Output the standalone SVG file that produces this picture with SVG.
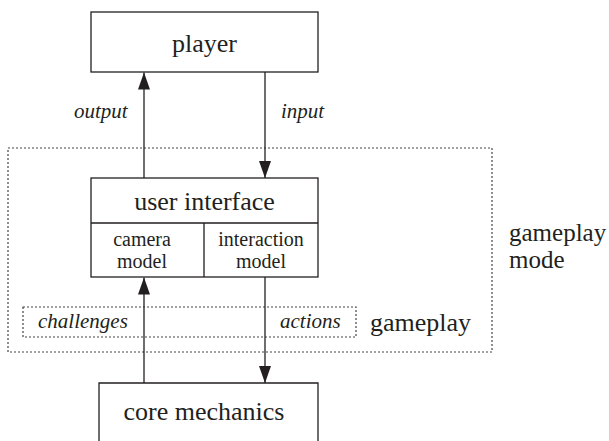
<svg xmlns="http://www.w3.org/2000/svg" width="609" height="441" viewBox="0 0 609 441">
  <defs>
    <marker id="arrow" markerWidth="17" markerHeight="12" refX="17" refY="6" orient="auto" markerUnits="userSpaceOnUse">
      <path d="M0,0 L17,6 L0,12 Z" fill="#231f20"/>
    </marker>
  </defs>
  <rect width="609" height="441" fill="#fff"/>

  <!-- gameplay mode region -->
  <g id="gameplay-mode">
    <rect x="8" y="148" width="484" height="204" fill="none" stroke="#444" stroke-width="1.2" stroke-dasharray="2 2"/>
    <text x="509" y="241" font-family="Times New Roman" font-size="25" fill="#231f20">gameplay</text>
    <text x="509" y="268" font-family="Times New Roman" font-size="25" fill="#231f20">mode</text>
  </g>

  <!-- gameplay strip -->
  <g id="gameplay">
    <rect x="23" y="307" width="333" height="30" fill="none" stroke="#444" stroke-width="1.2" stroke-dasharray="2 2"/>
    <text x="38" y="328" font-family="Times New Roman" font-size="21" font-style="italic" fill="#231f20">challenges</text>
    <text x="280" y="328" font-family="Times New Roman" font-size="21" font-style="italic" fill="#231f20">actions</text>
    <text x="370" y="331" font-family="Times New Roman" font-size="26" fill="#231f20">gameplay</text>
  </g>

  <g id="player">
    <rect x="91" y="12" width="227" height="60" fill="#fff" stroke="#231f20" stroke-width="1.3"/>
    <text x="204.5" y="52" font-family="Times New Roman" font-size="26" text-anchor="middle" fill="#231f20">player</text>
  </g>

  <g id="user-interface">
    <rect x="91" y="178" width="227" height="99" fill="#fff" stroke="#231f20" stroke-width="1.3"/>
    <path d="M91,223 H318 M204,223 V277" stroke="#231f20" stroke-width="1.3" fill="none"/>
    <text x="204.5" y="210" font-family="Times New Roman" font-size="26" text-anchor="middle" fill="#231f20">user interface</text>
    <text x="142" y="246" font-family="Times New Roman" font-size="20" text-anchor="middle" fill="#231f20">camera</text>
    <text x="142" y="268" font-family="Times New Roman" font-size="20" text-anchor="middle" fill="#231f20">model</text>
    <text x="261" y="246" font-family="Times New Roman" font-size="20" text-anchor="middle" fill="#231f20">interaction</text>
    <text x="261" y="268" font-family="Times New Roman" font-size="20" text-anchor="middle" fill="#231f20">model</text>
  </g>

  <g id="core-mechanics">
    <path d="M99,442 L99,383 L318,383 L318,442" fill="#fff" stroke="#231f20" stroke-width="1.3"/>
    <text x="204" y="420" font-family="Times New Roman" font-size="26" text-anchor="middle" fill="#231f20">core mechanics</text>
  </g>

  <g id="connectors">
    <g stroke="#231f20" stroke-width="1.3" fill="none" marker-end="url(#arrow)">
      <line x1="144" y1="178" x2="144" y2="72.5"/>
      <line x1="265" y1="72" x2="265" y2="178"/>
      <line x1="144" y1="383" x2="144" y2="277.5"/>
      <line x1="265" y1="277" x2="265" y2="383"/>
    </g>
    <text x="74" y="118" font-family="Times New Roman" font-size="21" font-style="italic" fill="#231f20">output</text>
    <text x="281" y="118" font-family="Times New Roman" font-size="21" font-style="italic" fill="#231f20">input</text>
  </g>
</svg>
